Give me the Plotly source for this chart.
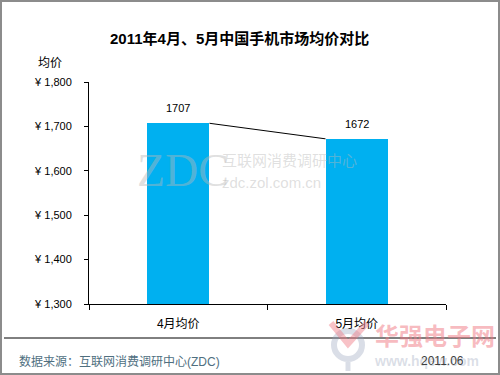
import plotly.graph_objects as go

categories = ["4月均价", "5月均价"]
values = [1707, 1672]
y_ticks = [1300, 1400, 1500, 1600, 1700, 1800]
y_tick_labels = ["¥ {:,}".format(v) for v in y_ticks]

W, H = 500, 375
ML, MR, MT, MB = 89, 54, 82, 71
PW, PH = W - ML - MR, H - MT - MB
bar_w = 0.35
xpos = list(range(len(categories)))

def px(x):
    return (x - ML) / PW

def py(y):
    return (H - MB - y) / PH

font_cn = "Liberation Sans, Arial, Noto Sans CJK SC"

fig = go.Figure()
fig.add_trace(go.Bar(x=xpos, y=values, width=bar_w, marker=dict(color="#00B0F0", line=dict(width=0)),
                     showlegend=False, hoverinfo="skip"))
# connecting line between bar tops
fig.add_trace(go.Scatter(x=[xpos[0] + bar_w / 2, xpos[1] - bar_w / 2], y=values, mode="lines",
                         line=dict(color="black", width=1), xaxis="x2", showlegend=False, hoverinfo="skip"))

annotations = []
for x, v in zip(xpos, values):
    annotations.append(dict(x=x, y=v, xref="x", yref="y", text=str(v), showarrow=False,
                            yshift=15, font=dict(size=11, color="black", family=font_cn)))

annotations += [
    dict(x=px(239), y=py(38), xref="paper", yref="paper", text="<b>2011年4月、5月中国手机市场均价对比</b>",
         showarrow=False, font=dict(size=15, color="black", family=font_cn), xanchor="center", yanchor="middle"),
    dict(x=px(36), y=py(63), xref="paper", yref="paper", text="均价", showarrow=False,
         font=dict(size=12, color="black", family=font_cn), xanchor="left", yanchor="middle"),
    dict(x=px(17), y=py(361), xref="paper", yref="paper", text="数据来源：互联网消费调研中心(ZDC)", showarrow=False,
         font=dict(size=12, color="#4F6F7F", family=font_cn), xanchor="left", yanchor="middle"),
    # watermarks
    dict(x=px(135), y=py(170), xref="paper", yref="paper", text="ZDC", showarrow=False,
         font=dict(size=46, color="rgba(185,185,185,0.45)", family="Liberation Serif, Times New Roman"),
         xanchor="left", yanchor="middle"),
    dict(x=px(220), y=py(160), xref="paper", yref="paper", text="互联网消费调研中心", showarrow=False,
         font=dict(size=15, color="rgba(185,185,185,0.45)", family=font_cn), xanchor="left", yanchor="middle"),
    dict(x=px(220), y=py(182), xref="paper", yref="paper", text="zdc.zol.com.cn", showarrow=False,
         font=dict(size=15, color="rgba(185,185,185,0.45)", family=font_cn), xanchor="left", yanchor="middle"),
    dict(x=px(373), y=py(336), xref="paper", yref="paper", text="<b>华强电子网</b>", showarrow=False,
         font=dict(size=24, color="rgba(240,120,130,0.5)", family=font_cn), xanchor="left", yanchor="middle"),
    dict(x=px(372), y=py(361), xref="paper", yref="paper", text="<b>www.hqew.com</b>", showarrow=False,
         font=dict(size=14, color="rgba(150,160,185,0.35)", family=font_cn), xanchor="left", yanchor="middle"),
    dict(x=px(466), y=py(361), xref="paper", yref="paper", text="2011.06", showarrow=False,
         font=dict(size=12, color="#404040", family=font_cn), xanchor="right", yanchor="middle"),
]

shapes = [
    dict(type="line", xref="paper", yref="paper", x0=px(4), x1=px(496), y0=py(338), y1=py(338),
         line=dict(color="black", width=1)),
    dict(type="rect", xref="paper", yref="paper", x0=px(1), x1=px(499), y0=py(1), y1=py(374),
         line=dict(color="#8C8C8C", width=2)),
    # hqew logo watermark (ring, stem, V)
    dict(type="circle", xref="paper", yref="paper", x0=px(334), x1=px(362), y0=py(331), y1=py(359),
         line=dict(color="rgba(150,160,185,0.35)", width=6)),
    dict(type="line", xref="paper", yref="paper", x0=px(348), x1=px(348), y0=py(362), y1=py(371),
         line=dict(color="rgba(150,160,185,0.35)", width=5)),
    dict(type="path", xref="paper", yref="paper",
         path="M {},{} L {},{} L {},{}".format(px(331), py(323), px(348), py(344), px(367), py(323)),
         line=dict(color="rgba(240,120,130,0.45)", width=6)),
]

fig.update_layout(
    width=W, height=H,
    margin=dict(l=ML, r=MR, t=MT, b=MB, autoexpand=False),
    paper_bgcolor="white", plot_bgcolor="white",
    bargap=0,
    xaxis=dict(range=[-0.5, 1.5], tickvals=[-0.5, 0.5, 1.5], ticktext=["", "", ""], ticks="outside",
               ticklen=5, tickcolor="black", showline=True, linecolor="black", linewidth=1,
               showgrid=False, zeroline=False, fixedrange=True, automargin=False),
    xaxis2=dict(range=[-0.5, 1.5], overlaying="x", side="bottom", tickvals=xpos, ticktext=categories,
                ticks="", showline=False, showgrid=False, zeroline=False, automargin=False,
                ticklabelstandoff=11,
                tickfont=dict(size=12, color="black", family=font_cn)),
    yaxis=dict(range=[y_ticks[0], y_ticks[-1]], tickvals=y_ticks, ticktext=y_tick_labels,
               ticks="outside", ticklen=4, tickcolor="black", showline=True, linecolor="black", linewidth=1,
               showgrid=False, zeroline=False, tickfont=dict(size=11, color="black", family=font_cn),
               ticklabelstandoff=10, automargin=False),
    annotations=annotations,
    shapes=shapes,
    font=dict(family=font_cn),
)

fig.write_html("out.html", config={"displayModeBar": False},
               post_script="document.body.style.margin='0';document.body.style.overflow='hidden';")
